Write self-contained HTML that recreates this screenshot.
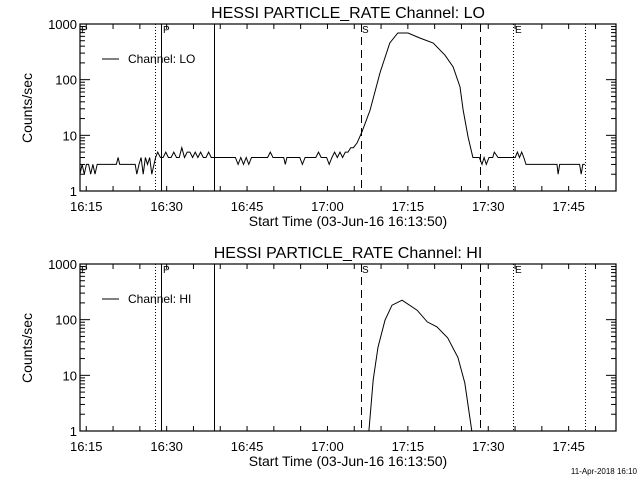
<!DOCTYPE html>
<html><head><meta charset="utf-8"><style>
body{margin:0;background:#fff}
svg{display:block;font-family:"Liberation Sans",sans-serif}
</style></head><body>
<svg id="c" width="640" height="480" viewBox="0 0 640 480" xmlns="http://www.w3.org/2000/svg"></svg>
<script>
// time in minutes since 16:13:50
const loTimes = [0,0.4,0.8,1.2,1.6,2,2.4,2.8,3.2,3.7,6.8,7.1,7.4,10.3,10.6,11,11.4,11.8,12.2,12.6,13,13.4,13.8,14.1,14.5,15,15.5,16,16.5,17,17.5,18,18.5,19,19.5,20,20.5,21,21.5,22,22.5,23,23.5,24,24.5,25,28,29,29.5,30,30.5,31,31.5,32,35,35.5,36,38,38.3,38.6,41,41.5,42,44,44.5,45,46,46.5,47,47.5,48,48.5,49,49.5,50,50.5,51,51.7,52.6,54.1,56,57.8,59.3,61.2,63.4,65.9,68.1,69.6,70.9,71.5,72.4,73.3,74.5,75,75.4,75.8,76.3,77,77.3,78,80.8,81.2,81.6,82,82.4,82.8,83.2,84,89,89.2,89.5,93.2,93.5,93.8,94.2];
const loValues = [2,3,2,3,3,2,3,2,3,3,3,4,3,3,2,3,4,2,4,3,4,2,3,4,5,4,4,5,4,4,5,4,4,6,4,5,5,4,5,4,5,4,4,5,4,4,4,4,3,4,3,4,3,4,4,5,4,4,3,4,4,3,4,4,5,4,4,3,4,5,4,5,4,5,5,6,6,7.3,11.5,28,137,455,690,690,560,455,275,170,74,28,9.3,4,4,3,4,3,4,4,5,4,4,4,5,4,5,4,3,3,3,2,3,3,2,3,3];
const hiTimes = [53.9,54.7,55.6,56.9,58.2,60.1,62.9,64.8,66.6,68.6,70.5,71.8,73.1];
const hiValues = [1,8.3,32,98,182,224,148,91,74,47,21,7.3,1];
const xTickLabels = ["16:15","16:30","16:45","17:00","17:15","17:30","17:45"];
const xTickMinutes = [1.1667,16.1667,31.1667,46.1667,61.1667,76.1667,91.1667];
const yTickLabels = ["1","10","100","1000"];
const yTickValues = [1,10,100,1000];
const markerTimes = [14.0,15.1,25.0,52.4,74.6,80.8,94.2];
const markerStyles = ["dot","solid","solid","dash","dash","dot","dot"];

const NS="http://www.w3.org/2000/svg";
const svg=document.getElementById('c');
const X0=80,X1=616,TMAX=100;
function xs(t){return X0+(t/TMAX)*(X1-X0);}
function mk(tag,attrs,parent){const e=document.createElementNS(NS,tag);for(const k in attrs)e.setAttribute(k,attrs[k]);(parent||svg).appendChild(e);return e;}

function panel(off,times,values,chan,nm){
  const Y0=24+off,Y1=191+off;
  const ys=v=>Y1-(Math.log10(v)/3)*(Y1-Y0);
  const g=mk('g',{});
  
  
  const t=mk('text',{x:348,y:18+off,'text-anchor':'middle','font-size':16},g);
  t.textContent='HESSI PARTICLE_RATE Channel: '+chan;
  
  
  const fr=mk('rect',{x:X0,y:Y0,width:X1-X0,height:Y1-Y0,fill:'none',stroke:'#000','stroke-width':1.2},g);
  
  
  for(let d=0;d<3;d++)for(let m=1;m<10;m++){
    const v=Math.pow(10,d)*m,y=ys(v),L=m===1?10:5;
    mk('line',{x1:X0,x2:X0+L,y1:y,y2:y,stroke:'#000'},g);
    mk('line',{x1:X1,x2:X1-L,y1:y,y2:y,stroke:'#000'},g);
  }
  yTickValues.forEach((v,i)=>{
    const tx=mk('text',{x:77,y:ys(v)+5,'text-anchor':'end','font-size':13},g);
    tx.textContent=yTickLabels[i];
    
    
  });
  for(let m=1.1667;m<TMAX;m+=5){
    const x=xs(m);
    mk('line',{x1:x,x2:x,y1:Y1,y2:Y1-5,stroke:'#000'},g);
    mk('line',{x1:x,x2:x,y1:Y0,y2:Y0+5,stroke:'#000'},g);
  }
  xTickMinutes.forEach((m,i)=>{
    const tx=mk('text',{x:xs(m),y:211+off,'text-anchor':'middle','font-size':13},g);
    tx.textContent=xTickLabels[i];
    
    
  });
  const xl=mk('text',{x:348,y:226+off,'text-anchor':'middle','font-size':14},g);
  xl.textContent='Start Time (03-Jun-16 16:13:50)';
  
  
  const yl=mk('text',{x:0,y:0,'text-anchor':'middle','font-size':14,transform:`translate(32,${108+off}) rotate(-90)`},g);
  yl.textContent='Counts/sec';
  
  
  markerTimes.forEach((m,i)=>{
    const x=Math.round(xs(m))+0.5,s=markerStyles[i];
    const a={x1:x,x2:x,y1:Y0,y2:Y1,stroke:'#000','stroke-width':1};
    if(s==='dot')a['stroke-dasharray']='1 2';
    if(s==='dash')a['stroke-dasharray']='8 5';
    const l=mk('line',a,g);
    
    
  });
  [['P',81],['P',163],['S',362],['E',515]].forEach(p=>{
    const tx=mk('text',{x:p[1],y:Y0+9,'font-size':10},g);
    tx.textContent=p[0];
    
    
  });
  mk('line',{x1:102,x2:119,y1:59+off,y2:59+off,stroke:'#000'},g);
  const lg=mk('text',{x:128,y:63+off,'font-size':12},g);
  lg.textContent='Channel: '+chan;
  
  
  const pts=times.map((tm,i)=>xs(tm).toFixed(1)+','+Math.min(Y1,ys(Math.max(values[i],1))).toFixed(1)).join(' ');
  const pl=mk('polyline',{points:pts,fill:'none',stroke:'#000','stroke-width':1},g);
  
  
}
panel(0,loTimes,loValues,'LO','lo');
panel(240,hiTimes,hiValues,'HI','hi');
const ft=mk('text',{x:637,y:474,'text-anchor':'end','font-size':8});
ft.textContent='11-Apr-2018 16:10';


</script>
</body></html>
